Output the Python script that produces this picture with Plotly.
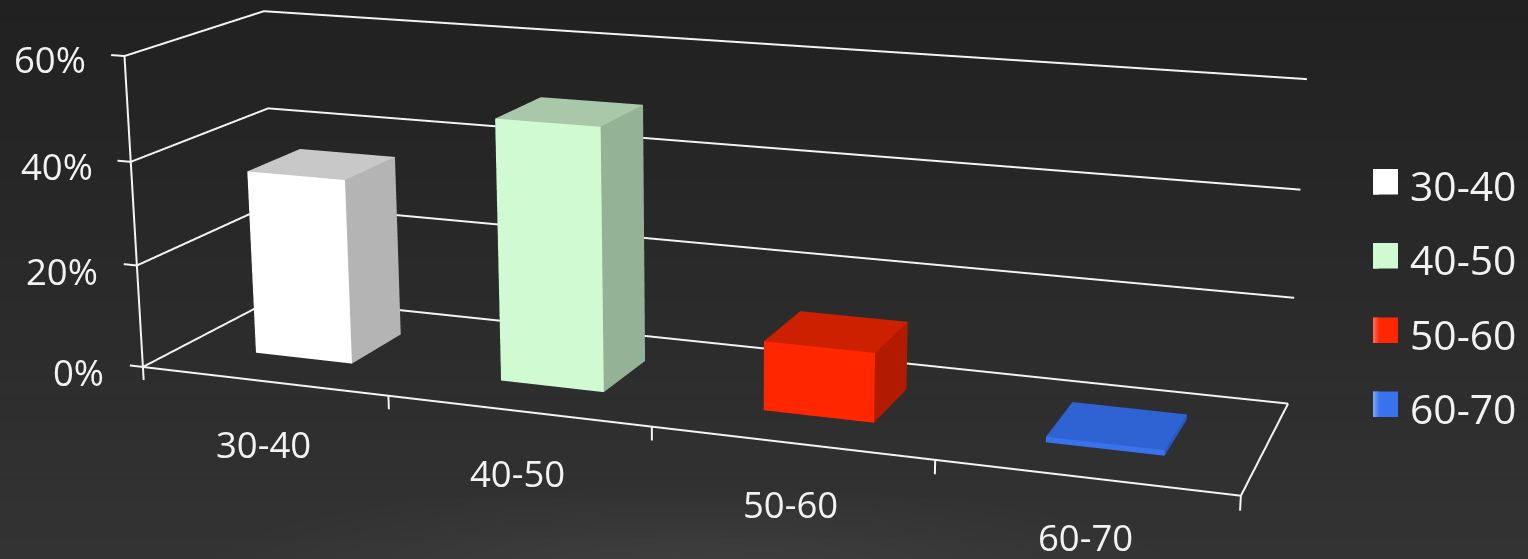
import plotly.graph_objects as go

categories = ["30-40", "40-50", "50-60", "60-70"]
values = [36, 50, 13, 1]
percent_ticks = [0, 20, 40, 60]
percent_labels = ["0%", "20%", "40%", "60%"]
front_colors = ["#ffffff", "#d0fbd2", "#ff2600", "#3a72ee"]
side_colors = ["#b4b4b4", "#93b296", "#b31b00", "#2a58c0"]
top_colors = ["#c8c8c8", "#a9c8aa", "#cc2000", "#2f62d2"]
legend_colors = ["#ffffff", "#d0fbd2", "#ff2600", "#3a72ee"]
legend_edges = ["#ffffff", "#d0fbd2", "#ff6a58", "#7ea4f2"]

W, H = 1528, 2219
TOP = 842  # scene is taller than the window (long lens); its centre sits at y=267.5
px = lambda x: x / W
py = lambda y: 1 - (y + TOP) / H

# axis ranges with a little room around the frame and for the tick marks
XR = [-0.1, 4.05]; YR = [-0.03, 1.03]; ZR = [-5, 62]
AX, AY, AZ = 3.4649, 0.8631, 1.0  # box size over the plotted 4 x 1 x 60 region
aspect = dict(x=AX * (XR[1] - XR[0]) / 4, y=AY * (YR[1] - YR[0]), z=AZ * (ZR[1] - ZR[0]) / 60)
dx = -((XR[0] + XR[1]) / 2 - 2) * AX / 4
dy = -((YR[0] + YR[1]) / 2 - 0.5) * AY
dz = -((ZR[0] + ZR[1]) / 2 - 30) * AZ / 60

fig = go.Figure()
BAR_W = 0.2   # half width along categories
BAR_D = 0.2   # half depth
FACES = [
    ((0, 1, 2, 3), "front"), ((1, 5, 6, 2), "side"), ((3, 2, 6, 7), "top"),
    ((4, 0, 3, 7), "side"), ((4, 5, 1, 0), "side"), ((5, 4, 7, 6), "side"),
]
for n, (cat, v) in enumerate(zip(categories, values)):
    cx = n + 0.5
    x0, x1, y0, y1 = cx - BAR_W, cx + BAR_W, 0.5 - BAR_D, 0.5 + BAR_D
    corners = [(x0, y0, 0), (x1, y0, 0), (x1, y0, v), (x0, y0, v),
               (x0, y1, 0), (x1, y1, 0), (x1, y1, v), (x0, y1, v)]
    xs, ys, zs, ii, jj, kk, fc = [], [], [], [], [], [], []
    for face, kind in FACES:
        b = len(xs)
        for c in face:
            xs.append(corners[c][0]); ys.append(corners[c][1]); zs.append(corners[c][2])
        col = {"front": front_colors, "side": side_colors, "top": top_colors}[kind][n]
        ii += [b, b]; jj += [b + 1, b + 2]; kk += [b + 2, b + 3]; fc += [col, col]
    fig.add_trace(go.Mesh3d(
        x=xs, y=ys, z=zs, i=ii, j=jj, k=kk, facecolor=fc, name=cat, flatshading=True,
        lighting=dict(ambient=1, diffuse=0, specular=0, fresnel=0, roughness=1),
        hoverinfo="name", showscale=False))

# frame, grid and ticks, in data coordinates
lx, ly, lz = [], [], []
def seg(*points):
    for p in points:
        lx.append(p[0]); ly.append(p[1]); lz.append(p[2])
    lx.append(None); ly.append(None); lz.append(None)
XMAX = len(categories)
for t in percent_ticks:
    seg((-0.055, 0, t), (0, 0, t), (0, 1, t), (XMAX, 1, t))
seg((0, 0, 0), (0, 0, max(percent_ticks)))
seg((0, 0, 0), (XMAX, 0, 0), (XMAX, 1, 0))
for c in range(XMAX + 1):
    seg((c, 0, 0), (c, 0, -2.6))
fig.add_trace(go.Scatter3d(x=lx, y=ly, z=lz, mode="lines", hoverinfo="skip",
                           line=dict(color="#f4f4f4", width=4), showlegend=False))

hidden = dict(visible=False, showspikes=False)
scene = dict(
    domain=dict(x=[0, 1420 / W], y=[0, 1]),
    bgcolor="rgba(0,0,0,0)",
    aspectmode="manual",
    aspectratio=aspect,
    camera=dict(eye=dict(x=2.7577 + dx, y=-7.4241 + dy, z=2.0272 + dz),
                center=dict(x=0.0324 + dx, y=-0.0203 + dy, z=-0.1147 + dz),
                up=dict(x=-0.0894, y=0.2463, z=0.9651),
                projection=dict(type="perspective")),
    xaxis=dict(range=XR, **hidden),
    yaxis=dict(range=YR, **hidden),
    zaxis=dict(range=ZR, **hidden),
)

# background: soft vertical gradient drawn as thin bands, with a faint glow at the bottom
shapes = []
BANDS = 28
for b in range(BANDS):
    t = b / (BANDS - 1)
    g = int(round(0x21 + (0x33 - 0x21) * t))
    shapes.append(dict(type="rect", xref="paper", yref="paper", layer="below", line_width=0,
                       x0=0, x1=1, y0=py(559 * (b + 1) / BANDS), y1=py(559 * b / BANDS),
                       fillcolor=f"rgb({g},{g},{g})"))
GLOW = 12
for b in range(GLOW):
    s = 1 - b / GLOW
    shapes.append(dict(type="circle", xref="paper", yref="paper", layer="below", line_width=0,
                       x0=px(690 - 480 * s), x1=px(690 + 480 * s),
                       y0=py(572 + 85 * s), y1=py(572 - 85 * s),
                       fillcolor="rgba(255,255,255,0.0065)"))

annotations = []
FONT = "Open Sans"
def label(text, x, y, size, anchor="center"):
    annotations.append(dict(text=text, xref="paper", yref="paper", x=px(x), y=py(y), showarrow=False,
                            xanchor=anchor, yanchor="middle", font=dict(family=FONT, size=size, color="#f2f2f2")))

for txt, x, y in zip(percent_labels, [106, 100, 95, 88], [372, 271, 166, 59]):
    label(txt, x, y, 36.5, "right")
for txt, x, y in zip(categories, [263, 517, 790, 1085], [444, 473, 504, 537]):
    label(txt, x, y, 36.5)

def mix(a, b, t):
    ca = [int(a[i:i + 2], 16) for i in (1, 3, 5)]
    cb = [int(b[i:i + 2], 16) for i in (1, 3, 5)]
    return "rgb(%d,%d,%d)" % tuple(round(p + (q - p) * t) for p, q in zip(ca, cb))

for txt, col, edge, y in zip(categories, legend_colors, legend_edges, [169, 243, 317.5, 391.5]):
    shapes.append(dict(type="rect", xref="paper", yref="paper", layer="above", line_width=0,
                       x0=px(1373), x1=px(1398), y0=py(y + 25.5), y1=py(y), fillcolor=col))
    for s in range(6):
        shapes.append(dict(type="rect", xref="paper", yref="paper", layer="above", line_width=0,
                           x0=px(1373 + s), x1=px(1374 + s), y0=py(y + 25.5), y1=py(y),
                           fillcolor=mix(edge, col, s / 6)))
    label(txt, 1518, y + 16, 40.8, "right")

fig.update_layout(width=W, height=H, margin=dict(l=0, r=0, t=0, b=0, pad=0), paper_bgcolor="#2a2a2a",
                  scene=scene, shapes=shapes, annotations=annotations, showlegend=False)

post = ("var gd=document.getElementById('{plot_id}');"
        "document.documentElement.style.overflow='hidden';"
        "document.documentElement.style.background='#2a2a2a';"
        "document.body.style.margin='0';document.body.style.overflow='hidden';"
        "gd.style.position='absolute';gd.style.left='0';gd.style.top='-%dpx';" % TOP)
fig.write_html("out.html", post_script=post)
